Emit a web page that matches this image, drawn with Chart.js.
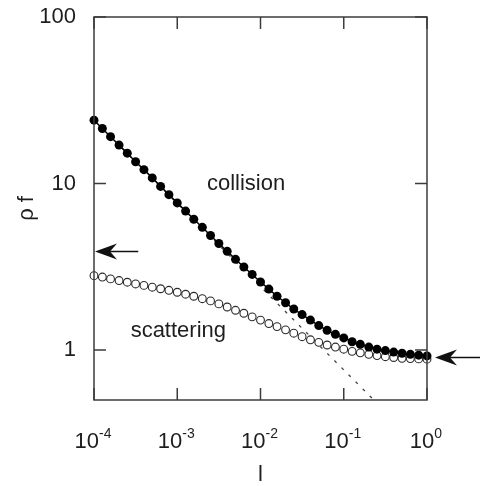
<!DOCTYPE html>
<html>
<head>
<meta charset="utf-8">
<script src="https://cdn.jsdelivr.net/npm/chart.js@4.4.1/dist/chart.umd.min.js"></script>
<style>
  html, body { margin: 0; padding: 0; background: #fff; }
  canvas { display: block; }
</style>
</head>
<body>
<canvas id="rhoChart" width="480" height="486"></canvas>
<script>
"use strict";

// l values (10 per decade)
const lValues = [
  1.00e-4, 1.26e-4, 1.58e-4, 2.00e-4, 2.51e-4, 3.16e-4, 3.98e-4, 5.01e-4, 6.31e-4, 7.94e-4,
  1.00e-3, 1.26e-3, 1.58e-3, 2.00e-3, 2.51e-3, 3.16e-3, 3.98e-3, 5.01e-3, 6.31e-3, 7.94e-3,
  1.00e-2, 1.26e-2, 1.58e-2, 2.00e-2, 2.51e-2, 3.16e-2, 3.98e-2, 5.01e-2, 6.31e-2, 7.94e-2,
  1.00e-1, 1.26e-1, 1.58e-1, 2.00e-1, 2.51e-1, 3.16e-1, 3.98e-1, 5.01e-1, 6.31e-1, 7.94e-1,
  1.00
];
const collision = [
  24.0, 21.4, 19.1, 17.0, 15.2, 13.5, 12.1, 10.8, 9.6, 8.56,
  7.64, 6.82, 6.09, 5.45, 4.87, 4.36, 3.91, 3.50, 3.15, 2.84,
  2.56, 2.32, 2.10, 1.92, 1.76, 1.63, 1.51, 1.40, 1.31, 1.24,
  1.18, 1.12, 1.08, 1.04, 1.01, 0.99, 0.97, 0.955, 0.94, 0.93,
  0.92
];
const scattering = [
  2.79, 2.74, 2.67, 2.61, 2.55, 2.49, 2.44, 2.38, 2.33, 2.28,
  2.22, 2.16, 2.10, 2.03, 1.97, 1.89, 1.81, 1.73, 1.66, 1.58,
  1.51, 1.44, 1.38, 1.32, 1.26, 1.20, 1.15, 1.11, 1.07, 1.04,
  1.01, 0.98, 0.96, 0.94, 0.925, 0.91, 0.90, 0.89, 0.887, 0.883,
  0.88
];
// asymptote ~ l^-1/2
const asymX = [1e-4, 0.23];
const asymY = [24, 0.5];

const xTicks = [1e-4, 1e-3, 1e-2, 1e-1, 1];
const xTickExp = ["-4", "-3", "-2", "-1", "0"];
const yTicks = [1, 10, 100];

const labelText = ["collision", "scattering"];
const labelX = [0.0067, 1.03e-3];
const labelY = [9.15, 1.2];

const arrowY = [3.9, 0.9]; // left arrow, right arrow
const leftArrowTail = 3.4e-4;

const ink = "#1e1e1e";
const frameColor = "#3c3c3c";
const fontFamily = "'Liberation Sans', Arial, Helvetica, sans-serif";

function toPoints(xs, ys) {
  return xs.map((x, i) => ({ x: x, y: ys[i] }));
}

function drawArrow(ctx, tipX, tailX, y) {
  ctx.beginPath();
  ctx.moveTo(tailX, y);
  ctx.lineTo(tipX + 10, y);
  ctx.stroke();
  ctx.beginPath();
  ctx.moveTo(tipX, y);
  ctx.lineTo(tipX + 22, y - 8);
  ctx.lineTo(tipX + 15, y);
  ctx.lineTo(tipX + 22, y + 8);
  ctx.closePath();
  ctx.fill();
}

const decorPlugin = {
  id: "decor",
  afterDatasetsDraw(chart) {
    const ctx = chart.ctx;
    const area = chart.chartArea;
    const xs = chart.scales.x;
    const ys = chart.scales.y;
    const tick = 12;

    ctx.save();
    // frame
    ctx.strokeStyle = frameColor;
    ctx.lineWidth = 1.5;
    ctx.strokeRect(area.left, area.top, area.right - area.left, area.bottom - area.top);

    // inward ticks on all sides
    ctx.beginPath();
    xTicks.forEach((v) => {
      const px = xs.getPixelForValue(v);
      ctx.moveTo(px, area.bottom);
      ctx.lineTo(px, area.bottom - tick);
      ctx.moveTo(px, area.top);
      ctx.lineTo(px, area.top + tick);
    });
    yTicks.forEach((v) => {
      const py = ys.getPixelForValue(v);
      ctx.moveTo(area.left, py);
      ctx.lineTo(area.left + tick, py);
      ctx.moveTo(area.right, py);
      ctx.lineTo(area.right - tick, py);
    });
    ctx.stroke();

    // x tick labels with exponents
    ctx.fillStyle = ink;
    ctx.textBaseline = "alphabetic";
    ctx.textAlign = "left";
    xTicks.forEach((v, i) => {
      const px = xs.getPixelForValue(v);
      ctx.font = "22px " + fontFamily;
      const wBase = ctx.measureText("10").width;
      ctx.font = "14px " + fontFamily;
      const wExp = ctx.measureText(xTickExp[i]).width;
      const start = px - (wBase + wExp) / 2 - 1;
      ctx.font = "22px " + fontFamily;
      ctx.fillText("10", start, 448);
      ctx.font = "14px " + fontFamily;
      ctx.fillText(xTickExp[i], start + wBase, 438);
    });

    // in-plot labels
    ctx.font = "22px " + fontFamily;
    ctx.textAlign = "center";
    labelText.forEach((t, i) => {
      ctx.fillText(t, xs.getPixelForValue(labelX[i]), ys.getPixelForValue(labelY[i]));
    });

    // arrows
    ctx.strokeStyle = "#111";
    ctx.fillStyle = "#111";
    ctx.lineWidth = 1.6;
    const yl = ys.getPixelForValue(arrowY[0]);
    drawArrow(ctx, area.left + 1, xs.getPixelForValue(leftArrowTail), yl);
    const yr = ys.getPixelForValue(arrowY[1]);
    drawArrow(ctx, area.right + 8, chart.width, yr);
    ctx.restore();
  }
};

Chart.defaults.font.family = fontFamily;
Chart.defaults.color = ink;

const ctxRho = document.getElementById("rhoChart").getContext("2d");
new Chart(ctxRho, {
  type: "scatter",
  data: {
    datasets: [
      {
        label: "collision",
        data: toPoints(lValues, collision),
        pointRadius: 4.5,
        pointBackgroundColor: "#000",
        pointBorderColor: "#000",
        pointBorderWidth: 0,
        showLine: true,
        borderColor: "#000",
        borderWidth: 1.5,
        clip: 10,
        order: 1,
      },
      {
        label: "scattering",
        data: toPoints(lValues, scattering),
        pointRadius: 3.9,
        pointBackgroundColor: "#fff",
        pointBorderColor: "#2a2a2a",
        pointBorderWidth: 1.1,
        showLine: false,
        clip: 10,
        order: 2,
      },
      {
        label: "asymptote",
        data: toPoints(asymX, asymY),
        showLine: true,
        pointRadius: 0,
        borderColor: "#444",
        borderWidth: 1.3,
        borderDash: [3, 7],
        order: 3,
      },
    ],
  },
  options: {
    responsive: false,
    animation: false,
    events: [],
    layout: { padding: { top: 17, right: 53, left: 0, bottom: 0 } },
    plugins: {
      legend: { display: false },
      tooltip: { enabled: false },
    },
    scales: {
      x: {
        type: "logarithmic",
        position: "bottom",
        min: 1e-4,
        max: 1,
        afterFit: (scale) => {
          scale.height = 86;
          scale.paddingLeft = 0;
          scale.paddingRight = 0;
        },
        grid: { display: false },
        border: { display: false },
        ticks: { display: false },
        title: {
          display: true,
          text: "l",
          color: ink,
          font: { size: 22, lineHeight: 1 },
          padding: { top: 0, bottom: 0 },
        },
      },
      y: {
        type: "logarithmic",
        position: "left",
        min: 0.5,
        max: 100,
        afterBuildTicks: (scale) => {
          scale.ticks = yTicks.map((v) => ({ value: v }));
        },
        afterFit: (scale) => {
          scale.width = 94;
          scale.paddingTop = 0;
          scale.paddingBottom = 0;
        },
        grid: { display: false, drawTicks: false },
        border: { display: false },
        ticks: {
          padding: 18,
          color: ink,
          font: { size: 22 },
          callback: (v) => String(v),
        },
        title: {
          display: true,
          text: "ρ f",
          color: ink,
          font: { size: 22, lineHeight: 1 },
          padding: { top: 16, bottom: 0 },
        },
      },
    },
  },
  plugins: [decorPlugin],
});
</script>
</body>
</html>
